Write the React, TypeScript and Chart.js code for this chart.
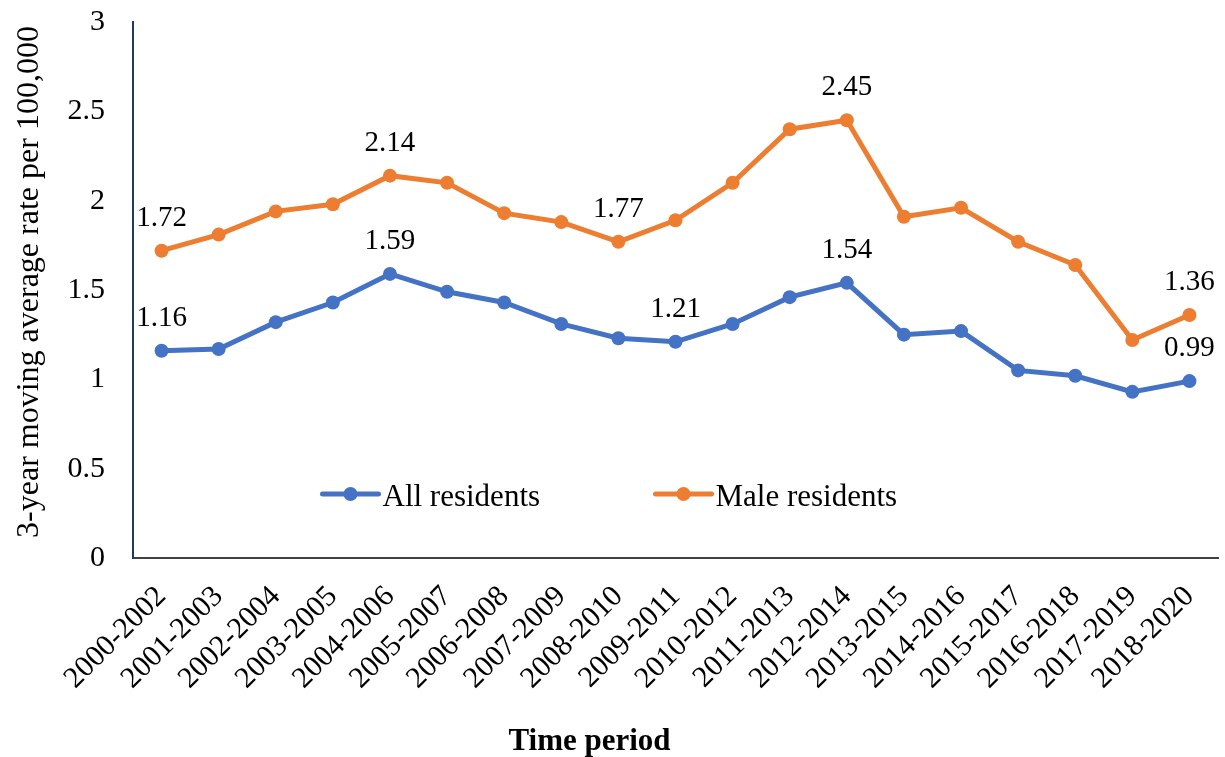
import React, { useEffect, useRef } from "react";
import { Chart, registerables } from "chart.js";

Chart.register(...registerables);

const periods = [
  "2000-2002", "2001-2003", "2002-2004", "2003-2005", "2004-2006", "2005-2007",
  "2006-2008", "2007-2009", "2008-2010", "2009-2011", "2010-2012", "2011-2013",
  "2012-2014", "2013-2015", "2014-2016", "2015-2017", "2016-2018", "2017-2019",
  "2018-2020",
];
const allResidents = [
  1.16, 1.17, 1.32, 1.43, 1.59, 1.49, 1.43, 1.31, 1.23, 1.21, 1.31, 1.46, 1.54,
  1.25, 1.27, 1.05, 1.02, 0.93, 0.99,
];
const maleResidents = [
  1.72, 1.81, 1.94, 1.98, 2.14, 2.1, 1.93, 1.88, 1.77, 1.89, 2.1, 2.4, 2.45,
  1.91, 1.96, 1.77, 1.64, 1.22, 1.36,
];
const allLabelIdx = [0, 4, 9, 12, 18];
const maleLabelIdx = [0, 4, 8, 12, 18];
const seriesNames = ["All residents", "Male residents"];
const seriesColors = ["#4472C4", "#ED7D31"];
const yTicks = [0, 0.5, 1, 1.5, 2, 2.5, 3];
const xTitle = "Time period";
const yTitle = "3-year moving average rate per 100,000";

const FONT = "'Liberation Serif', 'Times New Roman', serif";

const labelsPlugin = {
  id: "customLabels",
  afterDatasetsDraw(chart: any) {
    const ctx = chart.ctx;
    ctx.save();
    ctx.font = `29px ${FONT}`;
    ctx.fillStyle = "#000";
    ctx.textAlign = "center";
    ctx.textBaseline = "alphabetic";
    const idxSets = [allLabelIdx, maleLabelIdx];
    chart.data.datasets.forEach((ds: any, di: number) => {
      const meta = chart.getDatasetMeta(di);
      idxSets[di].forEach((i) => {
        const pt = meta.data[i];
        ctx.fillText(ds.data[i].toFixed(2), pt.x, pt.y - 25);
      });
    });
    // legend inside the plot
    const ca = chart.chartArea;
    const ly = ca.bottom - 64;
    const itemW = 333;
    const sampleW = 56;
    const x0 = chart.width / 2 - 290;
    ctx.font = `31px ${FONT}`;
    ctx.textAlign = "left";
    ctx.textBaseline = "alphabetic";
    seriesNames.forEach((name, k) => {
      const x = x0 + k * itemW;
      ctx.strokeStyle = seriesColors[k];
      ctx.lineWidth = 5;
      ctx.lineCap = "round";
      ctx.beginPath();
      ctx.moveTo(x, ly);
      ctx.lineTo(x + sampleW, ly);
      ctx.stroke();
      ctx.fillStyle = seriesColors[k];
      ctx.beginPath();
      ctx.arc(x + sampleW / 2, ly, 7, 0, Math.PI * 2);
      ctx.fill();
      ctx.fillStyle = "#000";
      ctx.fillText(name, x + sampleW + 4, ly + 12);
    });
    // axis titles
    ctx.font = `bold 31px ${FONT}`;
    ctx.textAlign = "center";
    ctx.fillText(xTitle, chart.width / 2 - 23, chart.height - 7);
    ctx.save();
    ctx.translate(38, (ca.top + ca.bottom) / 2 - 8);
    ctx.rotate(-Math.PI / 2);
    ctx.font = `32px ${FONT}`;
    ctx.fillText(yTitle, 0, 0);
    ctx.restore();
    ctx.restore();
  },
};

export default function App() {
  const ref = useRef<HTMLCanvasElement | null>(null);
  useEffect(() => {
    if (!ref.current) return;
    const chart = new Chart(ref.current, {
      type: "line",
      data: {
        labels: periods,
        datasets: [
          {
            label: seriesNames[0],
            data: allResidents,
            borderColor: seriesColors[0],
            backgroundColor: seriesColors[0],
            borderWidth: 5,
            pointRadius: 7,
            pointBorderWidth: 0,
            tension: 0,
          },
          {
            label: seriesNames[1],
            data: maleResidents,
            borderColor: seriesColors[1],
            backgroundColor: seriesColors[1],
            borderWidth: 5,
            pointRadius: 7,
            pointBorderWidth: 0,
            tension: 0,
          },
        ],
      },
      options: {
        responsive: false,
        animation: false,
        layout: { padding: { top: 22, right: 7, left: 0, bottom: 0 } },
        plugins: {
          legend: { display: false },
          tooltip: { enabled: false },
        },
        scales: {
          x: {
            offset: true,
            grid: { display: false, drawTicks: false },
            border: { display: true, color: "#404040", width: 2 },
            ticks: {
              autoSkip: false,
              minRotation: 45,
              maxRotation: 45,
              padding: 21,
              color: "#000",
              font: { family: FONT, size: 30 },
            },
            afterFit(scale: any) {
              scale.height = 199;
              scale.paddingLeft = 0;
              scale.paddingRight = 0;
            },
          },
          y: {
            min: 0,
            max: 3,
            afterBuildTicks(scale: any) {
              scale.ticks = yTicks.map((v) => ({ value: v }));
            },
            grid: { display: false, drawTicks: false },
            border: { display: true, color: "#203864", width: 2 },
            ticks: {
              padding: 28,
              color: "#000",
              font: { family: FONT, size: 30 },
              callback: (v: any) => String(v),
            },
            afterFit(scale: any) {
              scale.width = 133;
              scale.paddingTop = 0;
              scale.paddingBottom = 0;
            },
          },
        },
      },
      plugins: [labelsPlugin],
    });
    return () => chart.destroy();
  }, []);
  return (
    <div style={{ position: "fixed", left: 0, top: 0, width: 1225, height: 757, background: "#fff" }}>
      <canvas ref={ref} width={1225} height={757} />
    </div>
  );
}
